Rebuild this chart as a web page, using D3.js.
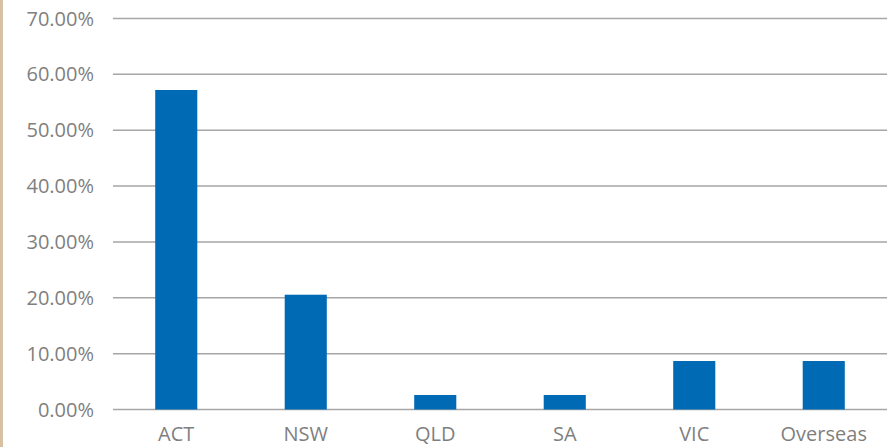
<!DOCTYPE html>
<html>
<head>
<meta charset="utf-8">
<script src="https://cdn.jsdelivr.net/npm/d3@7"></script>
<style>
  body { margin: 0; background: #fff; }
  svg text { font-family: "Open Sans", sans-serif; fill: #7f7f7f; }
</style>
</head>
<body>
<div id="chart"></div>
<script>
// values (percent)
const states = ['ACT', 'NSW', 'QLD', 'SA', 'VIC', 'Overseas'];
const shares = [57.2, 20.55, 2.6, 2.6, 8.68, 8.68];
const yTicks = [0, 10, 20, 30, 40, 50, 60, 70];

const width = 890, height = 447;

const svg = d3.select('#chart')
    .append('svg')
    .attr('width', width)
    .attr('height', height);

// beige strip on the left edge
svg.append('rect')
    .attr('x', 0).attr('y', 0)
    .attr('width', 3).attr('height', height)
    .attr('fill', '#d6c1a2');

const x = d3.scaleBand()
    .domain(states)
    .range([111.5, 888.5]);

const y = d3.scaleLinear()
    .domain([0, 70])
    .range([409.5, 18.5]);

// gridlines
svg.append('g')
    .selectAll('line')
    .data(yTicks)
    .enter()
    .append('line')
    .attr('x1', 113)
    .attr('x2', 887)
    .attr('y1', d => y(d))
    .attr('y2', d => y(d))
    .attr('stroke', '#a6a6a6')
    .attr('stroke-width', 1.5);

// y labels
svg.append('g')
    .selectAll('text')
    .data(yTicks)
    .enter()
    .append('text')
    .attr('x', 94)
    .attr('y', d => y(d))
    .attr('dy', '0.35em')
    .attr('text-anchor', 'end')
    .style('font-size', '20px')
    .text(d => d3.format('.2f')(d) + '%');

// bars
const barW = x.bandwidth() * 0.325;
svg.append('g')
    .selectAll('rect')
    .data(states)
    .enter()
    .append('rect')
    .attr('x', (d, i) => x(d) + x.bandwidth() / 2 - barW / 2)
    .attr('y', (d, i) => y(shares[i]))
    .attr('width', barW)
    .attr('height', (d, i) => y(0) - y(shares[i]))
    .attr('fill', '#006ab5');

// x labels
svg.append('g')
    .selectAll('text')
    .data(states)
    .enter()
    .append('text')
    .attr('x', d => x(d) + x.bandwidth() / 2)
    .attr('y', 441)
    .attr('text-anchor', 'middle')
    .style('font-size', '20px')
    .text(d => d);
</script>
</body>
</html>
